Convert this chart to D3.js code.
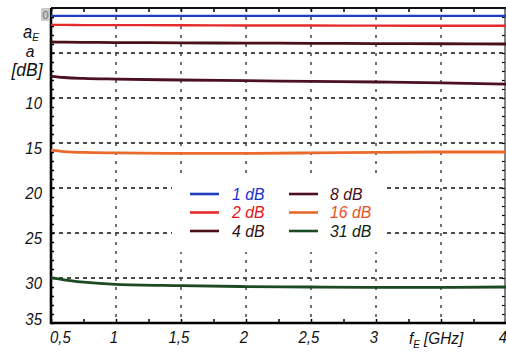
<!DOCTYPE html>
<html>
<head>
<meta charset="utf-8">
<script src="https://cdn.jsdelivr.net/npm/d3@7/dist/d3.min.js"></script>
<style>
  html, body { margin: 0; padding: 0; background: #fff; }
  svg { display: block; }
  text { font-family: "Liberation Sans", Arial, sans-serif; font-style: italic; }
</style>
</head>
<body>
<svg id="chart" width="506" height="360"></svg>
<script>
// Frequency sample points (GHz)
const freqs = [0.5, 0.6, 0.75, 1, 1.5, 2, 2.5, 3, 3.5, 4];

// Measured attenuation per step setting (dB)
const att1  = [0.88, 0.88, 0.88, 0.88, 0.88, 0.88, 0.88, 0.88, 0.88, 0.88];
const att2  = [1.88, 1.88, 1.90, 1.90, 1.92, 1.94, 1.95, 1.96, 1.97, 1.98];
const att4  = [3.78, 3.80, 3.82, 3.84, 3.87, 3.90, 3.92, 3.95, 3.97, 4.00];
const att8  = [7.60, 7.72, 7.82, 7.90, 8.00, 8.08, 8.15, 8.22, 8.32, 8.45];
const att16 = [15.80, 15.95, 16.05, 16.10, 16.15, 16.15, 16.10, 16.05, 16.00, 16.00];
const att31 = [29.95, 30.20, 30.45, 30.70, 30.85, 30.95, 31.00, 31.05, 31.05, 31.00];

const seriesNames = ["1 dB", "2 dB", "4 dB", "8 dB", "16 dB", "31 dB"];
const seriesValues = [att1, att2, att4, att8, att16, att31];
const lineColors = ["#1f3fc0", "#e42a2a", "#4a1018", "#4b1022", "#ea6a2c", "#1c4a22"];
const textColors = ["#1a2fd0", "#e8141c", "#3a1212", "#4a1020", "#e8521e", "#122212"];

// Axis ticks and labels
const xLabelTicks = [0.5, 1, 1.5, 2, 2.5, 3, 4];
const xLabels = ["0,5", "1", "1,5", "2", "2,5", "3", "4"];
const xGrid = [1, 1.5, 2, 2.5, 3, 3.5];
const yLabelTicks = [10, 15, 20, 25, 30, 35];
const yGrid = [5, 10, 15, 20, 25, 30];

const svg = d3.select("#chart");
const x = d3.scaleLinear().domain([0.5, 4]).range([51, 506]);
const y = d3.scaleLinear().domain([0, 35]).range([8, 323]);
const [x0, x1] = x.range();
const [y0, y1] = y.range();

// Narrow the lettering horizontally around each text's anchor point
function condense(sel, s) {
  sel.each(function () {
    const t = d3.select(this);
    const ax = +t.attr("x") || 0;
    t.attr("x", 0).attr("transform", `translate(${ax},0) scale(${s},1)`);
  });
}

// Grid lines
svg.append("g").selectAll("line").data(yGrid).join("line")
  .attr("x1", x0).attr("x2", x1)
  .attr("y1", d => y(d)).attr("y2", d => y(d))
  .attr("stroke", "#111").attr("stroke-width", 1.6).attr("stroke-dasharray", "4,4");
svg.append("g").selectAll("line").data(xGrid).join("line")
  .attr("x1", d => x(d)).attr("x2", d => x(d))
  .attr("y1", y0).attr("y2", y1)
  .attr("stroke", "#444").attr("stroke-width", 1.5).attr("stroke-dasharray", "3,6");

// Legend background blanks out the grid beneath it
svg.append("rect").attr("x", 172).attr("y", 176).attr("width", 215).attr("height", 76).attr("fill", "#fff");

// Minor ticks on all four sides
const xMinor = d3.range(0.5, 4.001, 0.25);
const yMinor = d3.range(0, 35.001, 1);
svg.append("g").attr("transform", `translate(0,${y1})`)
  .call(d3.axisBottom(x).tickValues(xMinor).tickSize(-4).tickFormat(""))
  .call(g => g.select(".domain").remove())
  .selectAll("line").attr("stroke-width", 1.5);
svg.append("g").attr("transform", `translate(0,${y0})`)
  .call(d3.axisTop(x).tickValues(xMinor).tickSize(-4).tickFormat(""))
  .call(g => g.select(".domain").remove())
  .selectAll("line").attr("stroke-width", 1.5);
svg.append("g").attr("transform", `translate(${x0},0)`)
  .call(d3.axisLeft(y).tickValues(yMinor).tickSize(-3).tickFormat(""))
  .call(g => g.select(".domain").remove())
  .selectAll("line").attr("stroke-width", 1.5);
svg.append("g").attr("transform", `translate(${x1 - 1},0)`)
  .call(d3.axisRight(y).tickValues(yMinor).tickSize(-3).tickFormat(""))
  .call(g => g.select(".domain").remove())
  .selectAll("line").attr("stroke-width", 1.2);

// Frame
svg.append("line").attr("x1", x0).attr("x2", x1).attr("y1", y0).attr("y2", y0)
  .attr("stroke", "#111").attr("stroke-width", 2);
svg.append("line").attr("x1", x1 - 1).attr("x2", x1 - 1).attr("y1", y0).attr("y2", y1)
  .attr("stroke", "#333").attr("stroke-width", 1.2);
svg.append("line").attr("x1", x0).attr("x2", x0).attr("y1", y0).attr("y2", y1 + 1)
  .attr("stroke", "#000").attr("stroke-width", 2.6);
svg.append("line").attr("x1", x0 - 1).attr("x2", x1).attr("y1", y1).attr("y2", y1)
  .attr("stroke", "#000").attr("stroke-width", 2.6);

// Tick labels
const xAxis = svg.append("g").attr("transform", `translate(0,${y1})`)
  .call(d3.axisBottom(x).tickValues(xLabelTicks).tickSize(0).tickPadding(8)
    .tickFormat((d, i) => xLabels[i]));
xAxis.select(".domain").remove();
xAxis.selectAll("text").attr("font-size", 17).attr("fill", "#111")
  .attr("font-family", null)
  .attr("dx", (d, i) => i === 0 ? 10 : (i === xLabels.length - 1 ? -4 : -3));
condense(xAxis.selectAll("text"), 0.88);

const yAxis = svg.append("g").attr("transform", `translate(${x0},0)`)
  .call(d3.axisLeft(y).tickValues(yLabelTicks).tickSize(0).tickPadding(9)
    .tickFormat(d => String(d)));
yAxis.select(".domain").remove();
yAxis.selectAll("text").attr("font-size", 17).attr("fill", "#111")
  .attr("font-family", null)
  .attr("dy", d => d === 35 ? "0.1em" : "0.6em");
condense(yAxis.selectAll("text"), 0.88);

// Top value label sits in a grey tab at the corner
svg.append("rect").attr("x", 41).attr("y", 8).attr("width", 9).attr("height", 13).attr("rx", 2)
  .attr("fill", "#c8c8c8");
svg.append("text").attr("x", 45.5).attr("y", 19).attr("text-anchor", "middle")
  .attr("font-size", 11).attr("fill", "#777").style("font-style", "normal").text("0");

// Axis titles
const yt = svg.append("text").attr("x", 23).attr("y", 38).attr("font-size", 18).attr("fill", "#111");
yt.append("tspan").text("a");
yt.append("tspan").attr("font-size", 11).attr("dy", 3).text("E");
condense(yt, 0.92);
const ya = svg.append("text").attr("x", 30).attr("y", 57).attr("text-anchor", "middle")
  .attr("font-size", 17).attr("fill", "#111").text("a");
condense(ya, 0.92);
const ydb = svg.append("text").attr("x", 27).attr("y", 76).attr("text-anchor", "middle")
  .attr("font-size", 19).attr("fill", "#111").text("[dB]");
condense(ydb, 0.92);

const xt = svg.append("text").attr("x", 409).attr("y", 344).attr("font-size", 17).attr("fill", "#111");
xt.append("tspan").text("f");
xt.append("tspan").attr("font-size", 11).attr("dy", 4).text("E");
xt.append("tspan").attr("dy", -4).text(" [GHz]");
condense(xt, 0.9);

// Curves
const line = d3.line()
  .x((d, i) => x(freqs[i]))
  .y(d => y(d))
  .curve(d3.curveMonotoneX);
svg.append("g").selectAll("path").data(seriesValues).join("path")
  .attr("d", d => line(d))
  .attr("fill", "none")
  .attr("stroke", (d, i) => lineColors[i])
  .attr("stroke-width", (d, i) => i < 2 ? 2.4 : 2.8)
  .attr("stroke-linejoin", "round");

// Legend
const legend = svg.append("g");
seriesNames.forEach((name, i) => {
  const col = Math.floor(i / 3), row = i % 3;
  const lx = col === 0 ? 190 : 289;
  const ly = 194 + row * 18.5;
  legend.append("line").attr("x1", lx).attr("x2", lx + 29).attr("y1", ly).attr("y2", ly)
    .attr("stroke", lineColors[i]).attr("stroke-width", 2.6);
  const t = legend.append("text").attr("x", lx + (col === 0 ? 42 : 41)).attr("y", ly + 6)
    .attr("font-size", 17).attr("fill", textColors[i]).text(name);
  condense(t, 0.93);
});
</script>
</body>
</html>
